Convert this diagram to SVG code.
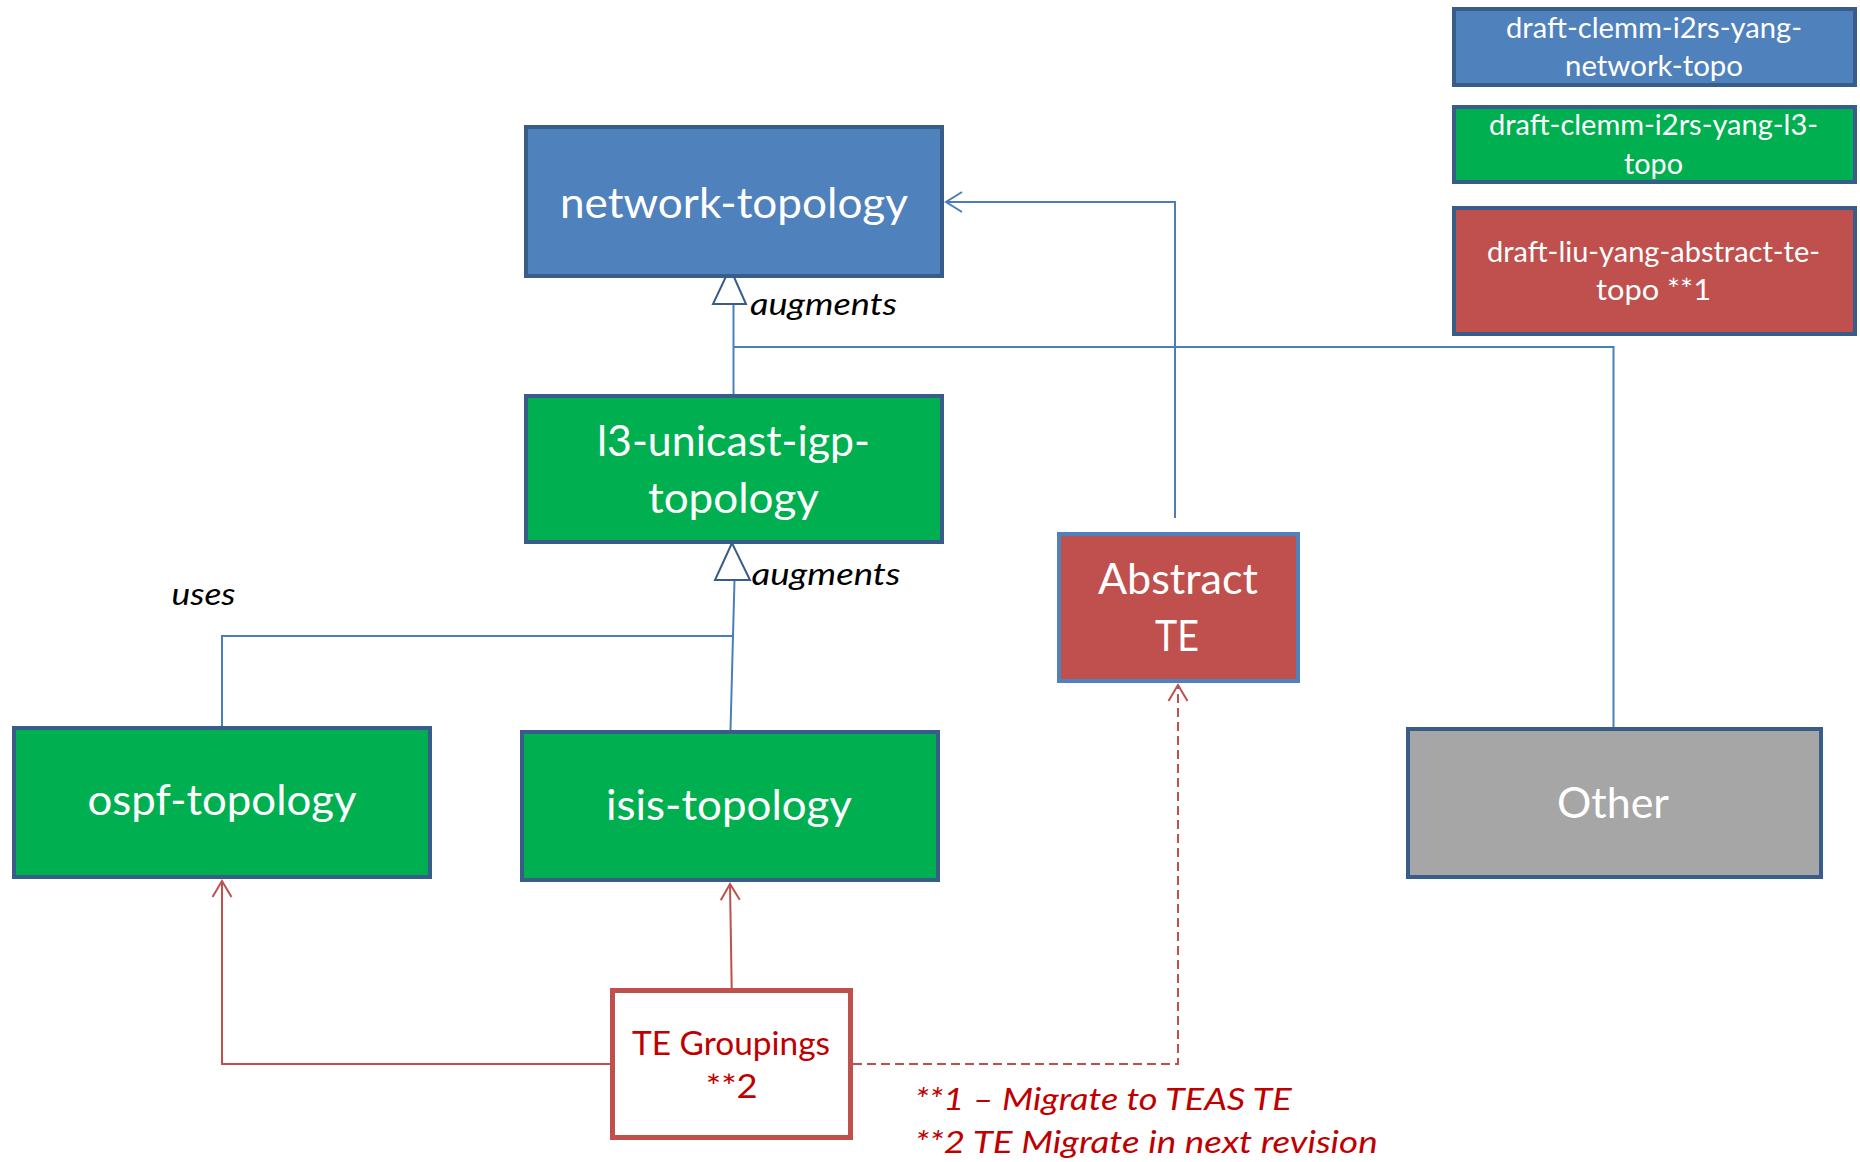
<svg xmlns="http://www.w3.org/2000/svg" width="1860" height="1162" viewBox="0 0 1860 1162">
<defs>
<style>
.t{font-family:Lato,"Open Sans","Liberation Sans",sans-serif;fill:#fff;text-anchor:middle}
.big{font-size:42px}
.leg{font-size:28.5px}
.it{font-family:Lato,"Open Sans","Liberation Sans",sans-serif;font-style:italic;font-size:30px;fill:#000}
.red{fill:#C00000}
.box{stroke:#385D8A;stroke-width:4}
.blue{fill:#4F81BD}
.green{fill:#00B050}
.rfill{fill:#C0504D}
.gray{fill:#A6A6A6}
.conn{fill:none;stroke:#4A7EBB;stroke-width:2}
.rconn{fill:none;stroke:#C0504D;stroke-width:2}
.tri{fill:#fff;stroke:#385D8A;stroke-width:2}
</style>
<marker id="openB" markerUnits="userSpaceOnUse" markerWidth="40" markerHeight="40" viewBox="-20 -20 40 40" refX="0" refY="0" orient="auto">
<path d="M-16,-10 L0,0 L-16,10" fill="none" stroke="#4A7EBB" stroke-width="2"/>
</marker>
<marker id="openR" markerUnits="userSpaceOnUse" markerWidth="40" markerHeight="40" viewBox="-20 -20 40 40" refX="0" refY="0" orient="auto">
<path d="M-16,-9.5 L0,0 L-16,9.5" fill="none" stroke="#C0504D" stroke-width="2" stroke-dasharray="none"/>
</marker>
</defs>
<rect width="1860" height="1162" fill="#fff"/>

<g id="connectors">
<path class="conn" d="M733.5,394 V304"/>
<path class="conn" d="M733.5,347 H1613.5 V727"/>
<path class="conn" d="M1175,518 V202 H946" marker-end="url(#openB)"/>
<path class="conn" d="M730.5,730 L733,636 L734.5,580"/>
<path class="conn" d="M222,727 V636 H734"/>
<polygon class="tri" points="730,268 713,304 746,304"/>
<polygon class="tri" points="732,543 715,580 750,580"/>
<path class="rconn" d="M731.7,988 L730,884" marker-end="url(#openR)"/>
<path class="rconn" d="M610,1064 H222 V881" marker-end="url(#openR)"/>
<path class="rconn" d="M853,1064 H1178 V685" stroke-dasharray="9 5" marker-end="url(#openR)"/>
</g>

<g id="legend-network-topo">
<rect class="box blue" x="1454" y="9" width="401" height="76"/>
<text class="t leg" x="1654" y="38" textLength="296" lengthAdjust="spacingAndGlyphs">draft-clemm-i2rs-yang-</text>
<text class="t leg" x="1654" y="76" textLength="178" lengthAdjust="spacingAndGlyphs">network-topo</text>
</g>
<g id="legend-l3-topo">
<rect class="box green" x="1454" y="107" width="401" height="75"/>
<text class="t leg" x="1653.5" y="135" textLength="329" lengthAdjust="spacingAndGlyphs">draft-clemm-i2rs-yang-l3-</text>
<text class="t leg" x="1653.5" y="174" textLength="59" lengthAdjust="spacingAndGlyphs">topo</text>
</g>
<g id="legend-abstract-te">
<rect class="box rfill" x="1454" y="208" width="401" height="126"/>
<text class="t leg" x="1653.5" y="262" textLength="333" lengthAdjust="spacingAndGlyphs">draft-liu-yang-abstract-te-</text>
<text class="t leg" x="1653.5" y="300" textLength="115" lengthAdjust="spacingAndGlyphs">topo **1</text>
</g>

<g id="network-topology">
<rect class="box blue" x="526" y="127" width="416" height="149"/>
<text class="t big" x="734" y="218" textLength="348" lengthAdjust="spacingAndGlyphs">network-topology</text>
</g>
<g id="l3-unicast-igp-topology">
<rect class="box green" x="526" y="396" width="416" height="146"/>
<text class="t big" x="733.5" y="456" textLength="273" lengthAdjust="spacingAndGlyphs">l3-unicast-igp-</text>
<text class="t big" x="733.5" y="513" textLength="171" lengthAdjust="spacingAndGlyphs">topology</text>
</g>
<g id="abstract-te">
<rect x="1059" y="534" width="239" height="147" fill="#C0504D" stroke="#4F81BD" stroke-width="4"/>
<text class="t big" x="1178" y="594" textLength="160" lengthAdjust="spacingAndGlyphs">Abstract</text>
<text class="t big" x="1177" y="651" textLength="44" lengthAdjust="spacingAndGlyphs">TE</text>
</g>
<g id="ospf-topology">
<rect class="box green" x="14" y="728" width="416" height="149"/>
<text class="t big" x="222" y="815" textLength="269" lengthAdjust="spacingAndGlyphs">ospf-topology</text>
</g>
<g id="isis-topology">
<rect class="box green" x="522" y="732" width="416" height="148"/>
<text class="t big" x="729" y="820" textLength="246" lengthAdjust="spacingAndGlyphs">isis-topology</text>
</g>
<g id="other">
<rect class="box gray" x="1408" y="729" width="413" height="148"/>
<text class="t big" x="1613" y="818" textLength="112" lengthAdjust="spacingAndGlyphs">Other</text>
</g>
<g id="te-groupings">
<rect x="612.5" y="990.5" width="238" height="147" fill="#fff" stroke="#C0504D" stroke-width="5"/>
<text class="t red" x="731" y="1055" font-size="32" textLength="198" lengthAdjust="spacingAndGlyphs">TE Groupings</text>
<text class="t red" x="731.7" y="1098" font-size="32" textLength="52" lengthAdjust="spacingAndGlyphs">**2</text>
</g>

<g id="labels">
<text class="it" x="750" y="315" textLength="147" lengthAdjust="spacingAndGlyphs">augments</text>
<text class="it" x="751.5" y="585" textLength="149" lengthAdjust="spacingAndGlyphs">augments</text>
<text class="it" x="171.5" y="605" textLength="64" lengthAdjust="spacingAndGlyphs">uses</text>
<text class="it red" x="914.7" y="1110" font-size="31" textLength="377" lengthAdjust="spacingAndGlyphs">**1 – Migrate to TEAS TE</text>
<text class="it red" x="914.7" y="1153" font-size="31" textLength="463" lengthAdjust="spacingAndGlyphs">**2 TE Migrate in next revision</text>
</g>
</svg>
